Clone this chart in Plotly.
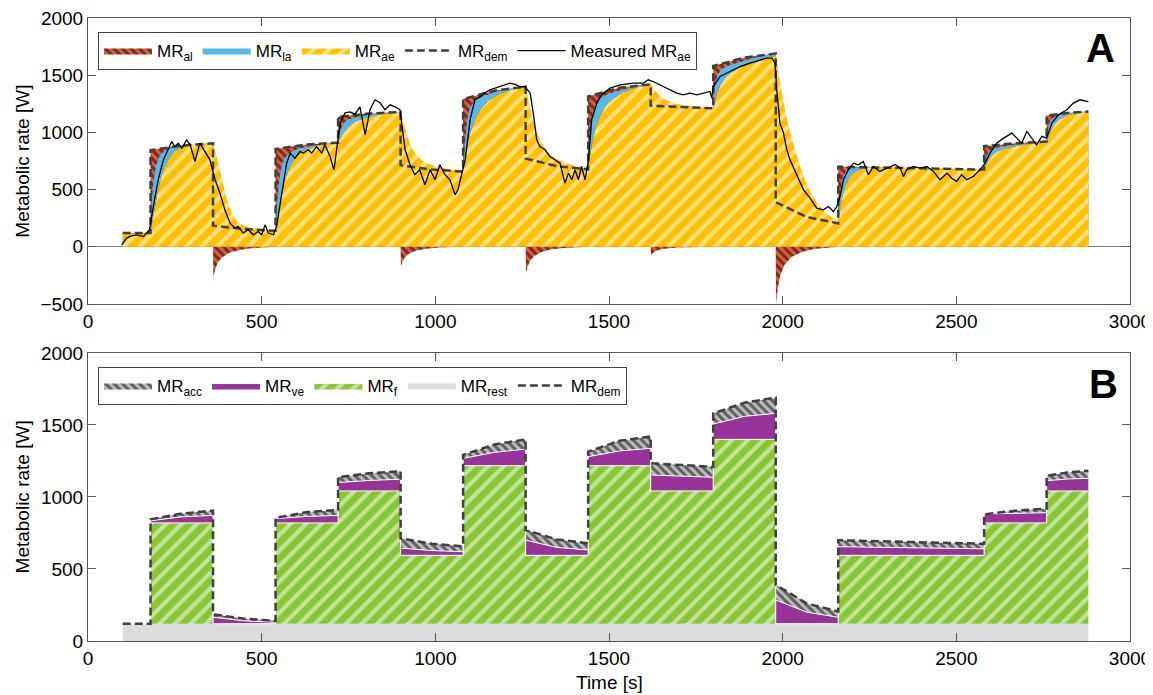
import plotly.graph_objects as go

FONT = "Liberation Sans, Arial, sans-serif"

# ---------------- data ----------------
# metabolic demand (step protocol), shared by both panels
dem_t = [100, 180, 180, 270, 360, 360, 450, 540, 540, 630, 720, 720, 810, 900, 900, 990, 1080,
         1080, 1170, 1260, 1260, 1350, 1440, 1440, 1530, 1620, 1620, 1710, 1800, 1800, 1890, 1980,
         1980, 2070, 2160, 2160, 2370, 2580, 2580, 2670, 2760, 2760, 2820, 2880]
dem_v = [120, 120, 845, 885, 905, 185, 155, 140, 855, 895, 910, 1137, 1165, 1178, 713, 675, 658,
         1292, 1365, 1400, 771, 705, 678, 1315, 1390, 1420, 1234, 1220, 1210, 1580, 1655, 1690,
         390, 260, 205, 700, 690, 675, 880, 905, 920, 1148, 1170, 1183]

# aerobic metabolic rate (model)
ae_t = [100, 180, 190, 200, 210, 220, 235, 250, 270, 300, 330, 360,
        370, 380, 390, 400, 415, 430, 450, 480, 540,
        550, 560, 570, 585, 600, 620, 650, 690, 720,
        735, 750, 770, 800, 850, 900,
        910, 920, 935, 950, 970, 1000, 1040, 1080,
        1090, 1100, 1115, 1130, 1150, 1180, 1220, 1260,
        1270, 1280, 1295, 1310, 1330, 1360, 1400, 1440,
        1450, 1460, 1475, 1490, 1510, 1540, 1580, 1620,
        1630, 1645, 1665, 1690, 1740, 1800,
        1810, 1820, 1835, 1850, 1880, 1920, 1950, 1980,
        1990, 2000, 2010, 2025, 2040, 2060, 2080, 2100, 2120, 2140, 2160,
        2170, 2180, 2195, 2210, 2240, 2300, 2400, 2500, 2580,
        2590, 2600, 2615, 2640, 2680, 2720, 2760,
        2770, 2780, 2795, 2820, 2850, 2880]
ae_v = [118, 120, 300, 470, 600, 690, 780, 835, 868, 890, 900, 905,
        790, 660, 530, 410, 285, 220, 185, 160, 140,
        330, 490, 610, 720, 790, 840, 875, 900, 910,
        990, 1050, 1095, 1130, 1160, 1178,
        1060, 960, 850, 785, 740, 705, 678, 660,
        850, 990, 1120, 1200, 1270, 1330, 1375, 1400,
        1250, 1120, 980, 885, 810, 750, 708, 680,
        880, 1020, 1150, 1230, 1290, 1350, 1395, 1420,
        1375, 1320, 1280, 1250, 1228, 1210,
        1330, 1410, 1480, 1520, 1570, 1620, 1650, 1670,
        1480, 1300, 1150, 960, 800, 620, 480, 380, 310, 260, 230,
        420, 530, 620, 660, 690, 698, 690, 680, 675,
        740, 790, 830, 860, 885, 905, 920,
        1000, 1060, 1110, 1150, 1170, 1183]

# top of the anaerobic lactic contribution (ae + la)
la_t = [100, 180, 183, 188, 195, 205, 220, 240, 270, 300, 330, 360,
        370, 380, 390, 400, 415, 430, 450, 480, 540,
        545, 552, 560, 575, 600, 630, 670, 720,
        725, 735, 750, 780, 820, 900,
        910, 920, 935, 950, 970, 1000, 1040, 1080,
        1085, 1092, 1100, 1115, 1140, 1180, 1220, 1260,
        1270, 1280, 1295, 1310, 1330, 1360, 1400, 1440,
        1445, 1452, 1460, 1475, 1500, 1540, 1580, 1620,
        1630, 1645, 1665, 1690, 1740, 1800,
        1805, 1812, 1822, 1840, 1870, 1910, 1950, 1980,
        1990, 2000, 2010, 2025, 2040, 2060, 2080, 2100, 2120, 2140, 2160,
        2165, 2172, 2182, 2200, 2240, 2300, 2400, 2500, 2580,
        2585, 2592, 2605, 2630, 2680, 2720, 2760,
        2764, 2770, 2780, 2800, 2840, 2880]
la_v = [118, 120, 350, 560, 700, 790, 840, 865, 880, 893, 900, 905,
        790, 660, 530, 410, 285, 220, 185, 160, 140,
        400, 620, 740, 810, 850, 875, 895, 910,
        1000, 1080, 1115, 1140, 1160, 1178,
        1060, 960, 850, 785, 740, 705, 678, 660,
        900, 1120, 1220, 1280, 1320, 1360, 1385, 1400,
        1250, 1120, 980, 885, 810, 750, 708, 680,
        950, 1150, 1240, 1300, 1340, 1375, 1405, 1420,
        1375, 1320, 1280, 1250, 1228, 1210,
        1400, 1500, 1550, 1580, 1610, 1645, 1675, 1690,
        1480, 1300, 1150, 960, 800, 620, 480, 380, 310, 260, 230,
        450, 600, 660, 690, 698, 698, 690, 680, 675,
        760, 830, 860, 875, 895, 910, 920,
        1030, 1100, 1130, 1155, 1175, 1183]

# negative alactic contribution (replenishment after step-downs)
aln_t = [100, 360, 361, 366, 373, 385, 405, 435, 470, 540,
         900, 901, 906, 913, 925, 945, 975, 1010, 1080,
         1260, 1261, 1266, 1273, 1285, 1305, 1335, 1370, 1440,
         1620, 1621, 1626, 1633, 1645, 1665, 1695, 1730, 1800,
         1980, 1981, 1986, 1993, 2005, 2025, 2055, 2090, 2160, 2880]
aln_v = [0, 0, -265, -200, -140, -95, -55, -28, -12, 0,
         0, -170, -125, -88, -58, -33, -16, -7, 0,
         0, -230, -170, -120, -80, -45, -22, -10, 0,
         0, -75, -55, -38, -25, -14, -7, -3, 0,
         0, -490, -360, -250, -160, -90, -45, -20, 0, 0]

# measured aerobic metabolic rate
meas_t = [97, 111, 125, 140, 160, 177, 188, 202, 217, 231, 241, 250, 260, 270, 284, 294, 308, 322,
          337, 351, 366, 380, 394, 409, 423, 432, 447, 461, 476, 490, 500, 510, 519, 534, 543,
          558, 572, 582, 596, 610, 620, 634, 644, 658, 673, 682, 697, 708, 716, 726, 740, 754,
          769, 783, 798, 812, 826, 841, 855, 870, 884, 898, 913, 927, 941, 955, 970, 985, 999,
          1013, 1028, 1042, 1057, 1065, 1072, 1086, 1100, 1114, 1129, 1143, 1157, 1186, 1200,
          1215, 1230, 1244, 1258, 1273, 1282, 1292, 1301, 1316, 1330, 1345, 1359, 1373, 1383,
          1393, 1402, 1412, 1421, 1431, 1441, 1450, 1465, 1479, 1503, 1532, 1570, 1599, 1613,
          1627, 1647, 1666, 1695, 1714, 1733, 1753, 1772, 1791, 1796, 1800, 1820, 1849, 1877,
          1906, 1935, 1954, 1969, 1978, 1983, 1992, 2002, 2012, 2021, 2041, 2060, 2079, 2098,
          2117, 2132, 2146, 2156, 2165, 2175, 2189, 2204, 2218, 2232, 2247, 2261, 2280, 2299,
          2324, 2338, 2348, 2357, 2376, 2396, 2415, 2434, 2453, 2473, 2487, 2501, 2515, 2530,
          2549, 2568, 2583, 2597, 2616, 2636, 2660, 2674, 2688, 2703, 2717, 2731, 2746, 2760,
          2775, 2794, 2818, 2837, 2856, 2880]
meas_v = [17, 76, 95, 105, 90, 149, 352, 586, 760, 848, 920, 877, 906, 862, 935, 892, 746, 906,
          833, 760, 586, 469, 323, 207, 163, 178, 120, 149, 105, 134, 105, 192, 120, 105, 178,
          469, 731, 819, 775, 833, 819, 848, 819, 877, 819, 892, 790, 673, 848, 1081, 1171, 1180,
          1160, 1224, 980, 1198, 1285, 1259, 1198, 1241, 1224, 1198, 848, 717, 630, 673, 542, 673, 586,
          717, 630, 586, 455, 498, 586, 760, 1110, 1285, 1311, 1346, 1372, 1401, 1420,
          1431, 1420, 1398, 1401, 1343, 1169, 935, 877, 848, 789, 760, 731, 556, 644,
          586, 673, 586, 702, 586, 760, 1110, 1256, 1329, 1387, 1416, 1431, 1431, 1460,
          1445, 1416, 1387, 1343, 1329, 1343, 1329, 1343, 1358, 1300, 1401, 1489, 1532, 1576,
          1605, 1635, 1649, 1649, 1605, 1372, 1081, 1000, 850, 760, 620, 498, 425, 338,
          323, 352, 309, 352, 440, 586, 673, 731, 717, 746, 630, 702, 659, 688,
          720, 690, 615, 673, 702, 688, 702, 659, 586, 644, 600, 571, 630, 586,
          615, 673, 731, 819, 906, 950, 994, 950, 906, 1008, 950, 892, 965, 950,
          1081, 1154, 1198, 1256, 1285, 1270]

# bottom panel: contributions
rest_t = [100, 2880]
rest_v = [120, 120]

f_t = [100, 180, 180, 360, 360, 540, 540, 720, 720, 900, 900, 1080, 1080, 1260, 1260, 1440,
       1440, 1620, 1620, 1800, 1800, 1980, 1980, 2160, 2160, 2580, 2580, 2760, 2760, 2880]
f_v = [120, 120, 820, 820, 120, 120, 820, 820, 1042, 1042, 595, 595, 1217, 1217, 595, 595,
       1217, 1217, 1042, 1042, 1400, 1400, 120, 120, 595, 595, 820, 820, 1042, 1042]

ve_t = dem_t
ve_v = [120, 120, 835, 862, 872, 165, 140, 130, 850, 865, 872, 1100, 1115, 1123, 645, 628, 620,
        1268, 1310, 1332, 700, 650, 632, 1280, 1320, 1338, 1153, 1145, 1137, 1507, 1560, 1581,
        285, 200, 165, 655, 650, 640, 882, 888, 891, 1113, 1125, 1130]

x_ticks = [0, 500, 1000, 1500, 2000, 2500, 3000]
y_ticks_top = [-500, 0, 500, 1000, 1500, 2000]
y_ticks_bot = [0, 500, 1000, 1500, 2000]

# ---------------- colours ----------------
RED = "#E35B3C"
BLUE = "#56B9EC"
YELLOW = "#FFC000"
DASH = "#3f3f3f"
GREEN = "#88C734"
PURPLE = "#973399"
GREY = "#DCDCDC"
ACC = "#BDBDBD"
DASHSTYLE = "8px,4px"

fig = go.Figure()

# ---- top panel ----
fig.add_trace(go.Scatter(x=dem_t, y=dem_v, mode="lines", line=dict(width=0), fill="tozeroy",
                         fillpattern=dict(shape="\\", bgcolor=RED, fgcolor="black", size=6, solidity=0.5),
                         name="MR<sub>al</sub>", legend="legend", legendrank=1, hoverinfo="skip",
                         xaxis="x", yaxis="y"))
fig.add_trace(go.Scatter(x=aln_t, y=aln_v, mode="lines", line=dict(width=0), fill="tozeroy",
                         fillpattern=dict(shape="\\", bgcolor=RED, fgcolor="black", size=6, solidity=0.5),
                         showlegend=False, hoverinfo="skip", xaxis="x", yaxis="y"))
fig.add_trace(go.Scatter(x=ae_t, y=ae_v, mode="lines", line=dict(width=0), fill="tozeroy",
                         fillpattern=dict(shape="/", bgcolor=YELLOW, fgcolor="white", size=11, solidity=0.38),
                         name="MR<sub>ae</sub>", legend="legend", legendrank=3, hoverinfo="skip",
                         xaxis="x", yaxis="y"))
fig.add_trace(go.Scatter(x=la_t, y=la_v, mode="lines", line=dict(width=0), fill="tonexty",
                         fillcolor=BLUE, name="MR<sub>la</sub>", legend="legend", legendrank=2,
                         hoverinfo="skip", xaxis="x", yaxis="y"))
fig.add_trace(go.Scatter(x=dem_t, y=dem_v, mode="lines", line=dict(color=DASH, width=2.5, dash=DASHSTYLE),
                         name="MR<sub>dem</sub>", legend="legend", legendrank=4, xaxis="x", yaxis="y"))
fig.add_trace(go.Scatter(x=meas_t, y=meas_v, mode="lines", line=dict(color="black", width=1.3),
                         name="Measured MR<sub>ae</sub>", legend="legend", legendrank=5,
                         xaxis="x", yaxis="y"))

# ---- bottom panel ----
fig.add_trace(go.Scatter(x=rest_t, y=rest_v, mode="lines", line=dict(width=0), fill="tozeroy",
                         fillcolor=GREY, name="MR<sub>rest</sub>", legend="legend2", legendrank=4,
                         hoverinfo="skip", xaxis="x2", yaxis="y2"))
fig.add_trace(go.Scatter(x=f_t, y=f_v, mode="lines", line=dict(width=1, color="white"), fill="tonexty",
                         fillpattern=dict(shape="/", bgcolor=GREEN, fgcolor="white", size=11, solidity=0.38),
                         name="MR<sub>f</sub>", legend="legend2", legendrank=3, hoverinfo="skip",
                         xaxis="x2", yaxis="y2"))
fig.add_trace(go.Scatter(x=ve_t, y=ve_v, mode="lines", line=dict(width=1, color="white"), fill="tonexty",
                         fillcolor=PURPLE, name="MR<sub>ve</sub>", legend="legend2", legendrank=2,
                         hoverinfo="skip", xaxis="x2", yaxis="y2"))
fig.add_trace(go.Scatter(x=dem_t, y=dem_v, mode="lines", line=dict(width=0), fill="tonexty",
                         fillpattern=dict(shape="\\", bgcolor=ACC, fgcolor="black", size=6, solidity=0.5),
                         name="MR<sub>acc</sub>", legend="legend2", legendrank=1, hoverinfo="skip",
                         xaxis="x2", yaxis="y2"))
fig.add_trace(go.Scatter(x=dem_t, y=dem_v, mode="lines", line=dict(color=DASH, width=2.5, dash=DASHSTYLE),
                         name="MR<sub>dem</sub>", legend="legend2", legendrank=5, xaxis="x2", yaxis="y2"))

axis_common = dict(showline=True, linecolor="#555555", linewidth=1, mirror="ticks", ticks="inside",
                   ticklen=8, tickcolor="#555555", showgrid=False, automargin=False,
                   ticklabeloverflow="allow",
                   tickfont=dict(family=FONT, size=19, color="black"))

legend_common = dict(orientation="h", xanchor="left", yanchor="top", bgcolor="white",
                     bordercolor="#444444", borderwidth=1, font=dict(family=FONT, size=17, color="black"),
                     itemwidth=48, traceorder="normal", tracegroupgap=0)

# the page body adds an 8 px offset, so the figure is 8 px smaller with 8 px smaller left/top margins
fig.update_layout(
    width=1145, height=687,
    margin=dict(l=80, r=23, t=10, b=54, autoexpand=False),
    paper_bgcolor="white", plot_bgcolor="white",
    font=dict(family=FONT, size=19, color="black"),
    xaxis=dict(domain=[0, 1], range=[0, 3000], tickvals=x_ticks, anchor="y", zeroline=False, **axis_common),
    yaxis=dict(domain=[0.5409, 1], range=[-500, 2000], tickvals=y_ticks_top, anchor="x",
               zeroline=True, zerolinecolor="#808080", zerolinewidth=1, **axis_common),
    xaxis2=dict(domain=[0, 1], range=[0, 3000], tickvals=x_ticks, anchor="y2", zeroline=False, **axis_common),
    yaxis2=dict(domain=[0, 0.4623], range=[0, 2000], tickvals=y_ticks_bot, anchor="x2", zeroline=False,
                **axis_common),
    legend=dict(x=0.0096, y=0.9775, **legend_common),
    legend2=dict(x=0.0096, y=0.4398, **legend_common),
    showlegend=True,
    annotations=[
        dict(text="Metabolic rate [W]", xref="paper", yref="paper", x=-0.063, y=0.770, textangle=-90,
             showarrow=False, font=dict(family=FONT, size=19), xanchor="center", yanchor="middle"),
        dict(text="Metabolic rate [W]", xref="paper", yref="paper", x=-0.063, y=0.231, textangle=-90,
             showarrow=False, font=dict(family=FONT, size=19), xanchor="center", yanchor="middle"),
        dict(text="Time [s]", xref="paper", yref="paper", x=0.5, y=-0.066, showarrow=False,
             font=dict(family=FONT, size=19), xanchor="center", yanchor="middle"),
        dict(text="<b>A</b>", xref="paper", yref="paper", x=0.972, y=0.952, showarrow=False,
             font=dict(family=FONT, size=40, color="black"), xanchor="center", yanchor="middle"),
        dict(text="<b>B</b>", xref="paper", yref="paper", x=0.975, y=0.4125, showarrow=False,
             font=dict(family=FONT, size=40, color="black"), xanchor="center", yanchor="middle"),
    ],
)

fig.write_html("out.html")
